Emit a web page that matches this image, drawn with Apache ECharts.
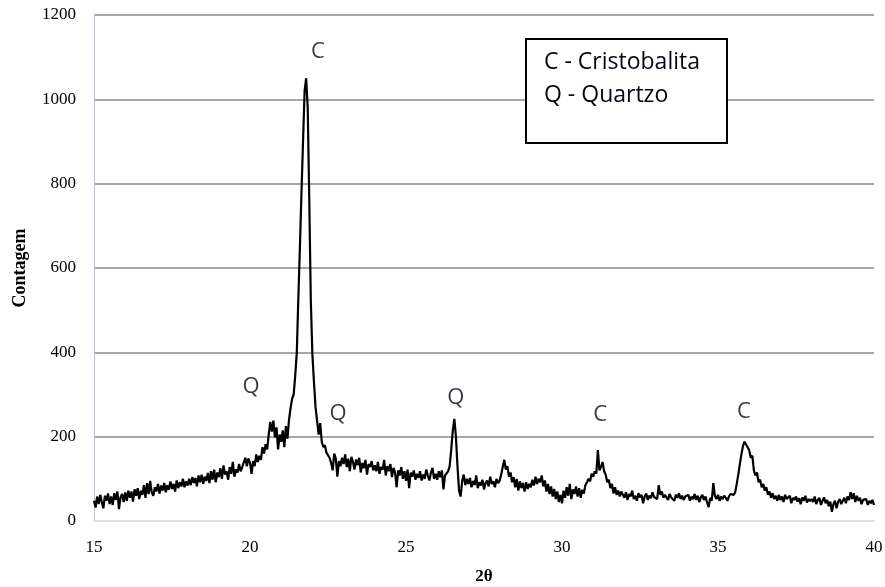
<!DOCTYPE html>
<html>
<head>
<meta charset="utf-8">
<script src="https://cdn.jsdelivr.net/npm/echarts@6/dist/echarts.min.js"></script>
<style>
  html, body { margin: 0; padding: 0; background: #fff; }
  #chart { width: 885px; height: 587px; }
</style>
</head>
<body>
<div id="chart"></div>
<script>
// Diffractogram sampling: first angle and step (degrees 2θ)
const angleStart = 15;
const angleStep = 0.05;

// Measured counts, one value per step from 15.00 to 40.00
const counts = [
  // 15.00 - 15.95
  48, 32, 58, 40, 62, 45, 30, 60, 48, 65, 40, 58, 38, 66, 50, 70, 28, 56, 64, 45,
  // 16.00 - 16.95
  68, 48, 72, 55, 70, 46, 75, 60, 78, 52, 72, 62, 85, 55, 90, 64, 95, 68, 60, 80,
  // 17.00 - 17.95
  70, 88, 65, 84, 72, 90, 68, 85, 74, 94, 76, 88, 70, 96, 78, 92, 82, 100, 80, 94,
  // 18.00 - 18.95
  84, 100, 85, 104, 90, 102, 82, 108, 92, 110, 88, 105, 95, 114, 90, 118, 98, 122, 92, 115,
  // 19.00 - 19.95
  104, 125, 100, 132, 110, 118, 98, 128, 112, 140, 105, 122, 115, 135, 118, 128, 124, 150, 130, 148,
  // 20.00 - 20.95
  138, 112, 142, 130, 158, 140, 155, 145, 175, 160, 182, 170, 205, 235, 212, 238, 198, 222, 170, 205,
  // 21.00 - 21.95
  188, 215, 175, 225, 195, 240, 268, 290, 300, 345, 400, 530, 650, 780, 900, 1020, 1050, 980, 760, 520,
  // 22.00 - 22.95
  395, 330, 270, 238, 205, 232, 188, 175, 180, 162, 165, 150, 138, 120, 160, 148, 105, 142, 130, 150,
  // 23.00 - 23.95
  135, 158, 128, 148, 118, 152, 140, 122, 146, 132, 150, 115, 138, 125, 145, 110, 135, 128, 142, 120,
  // 24.00 - 24.95
  132, 118, 140, 112, 128, 122, 145, 108, 130, 118, 135, 104, 126, 115, 80, 120, 108, 128, 100, 118,
  // 25.00 - 25.95
  95, 122, 78, 115, 105, 120, 98, 112, 102, 118, 96, 110, 100, 122, 108, 96, 115, 126, 100, 112,
  // 26.00 - 26.95
  98, 118, 104, 120, 75, 108, 112, 118, 130, 170, 215, 242, 200, 130, 72, 58, 95, 110, 85, 100,
  // 27.00 - 27.95
  88, 102, 80, 95, 85, 108, 78, 92, 84, 98, 75, 90, 96, 82, 105, 88, 94, 80, 100, 90,
  // 28.00 - 28.95
  95, 110, 128, 145, 122, 130, 105, 115, 92, 104, 80, 100, 72, 94, 78, 90, 70, 92, 76, 88,
  // 29.00 - 29.95
  80, 98, 84, 105, 88, 100, 92, 108, 82, 96, 70, 88, 64, 82, 58, 76, 52, 70, 45, 62,
  // 30.00 - 30.95
  42, 72, 55, 80, 60, 88, 52, 75, 64, 82, 58, 78, 55, 74, 65, 85, 92, 100, 94, 112,
  // 31.00 - 31.95
  105, 118, 112, 168, 120, 128, 140, 118, 110, 92, 98, 78, 88, 65, 80, 62, 72, 58, 70, 62,
  // 32.00 - 32.95
  55, 68, 50, 64, 58, 72, 52, 60, 48, 66, 56, 62, 42, 58, 65, 50, 60, 54, 68, 57,
  // 33.00 - 33.95
  60, 52, 85, 62, 70, 55, 62, 58, 50, 64, 56, 60, 48, 62, 55, 66, 52, 60, 50, 58,
  // 34.00 - 34.95
  55, 62, 48, 58, 52, 64, 50, 60, 45, 56, 62, 50, 58, 44, 33, 55, 48, 90, 60, 52,
  // 35.00 - 35.95
  62, 48, 58, 52, 60, 55, 48, 58, 64, 62, 62, 68, 88, 110, 135, 158, 178, 188, 192, 175,
  // 36.00 - 36.95
  168, 150, 155, 120, 108, 115, 92, 98, 80, 88, 72, 80, 62, 70, 55, 66, 52, 60, 48, 62,
  // 37.00 - 37.95
  50, 58, 45, 62, 52, 48, 60, 42, 55, 50, 58, 46, 54, 40, 56, 48, 60, 44, 52, 47,
  // 38.00 - 38.95
  52, 45, 58, 40, 50, 55, 38, 48, 56, 42, 50, 35, 46, 22, 40, 48, 30, 45, 52, 40,
  // 39.00 - 39.95
  48, 55, 42, 58, 50, 68, 52, 66, 45, 60, 48, 55, 40, 50, 46, 52, 38, 48, 42, 50,
  // 40.00
  38
];

// Phase markers above the reflections
const peakTags = ['C', 'Q', 'Q', 'Q', 'C', 'C'];
const peakTagAngle = [22.18, 20.03, 22.82, 26.6, 31.22, 35.83];
const peakTagCount = [1114, 318, 254, 292, 252, 258];

// Phase key
const phaseKey = ['C - Cristobalita', 'Q - Quartzo'];

const profile = counts.map((c, i) => [+(angleStart + i * angleStep).toFixed(2), c]);
const tags = peakTags.map((t, i) => ({ name: t, value: [peakTagAngle[i], peakTagCount[i]] }));

const chart = echarts.init(document.getElementById('chart'), null, { renderer: 'canvas' });

const serif = '"Liberation Serif", "Times New Roman", serif';
const sans = '"Open Sans", "Noto Sans", sans-serif';
const inkColor = '#050518';

chart.setOption({
  backgroundColor: '#ffffff',
  animation: false,
  title: {
    text: phaseKey.join('\n'),
    left: 526,
    top: 39,
    padding: [7, 8, 31, 18],
    borderColor: '#000000',
    borderWidth: 2,
    backgroundColor: '#ffffff',
    textStyle: {
      fontFamily: sans,
      fontSize: 23,
      fontWeight: 'normal',
      color: inkColor,
      lineHeight: 33,
      width: 175
    }
  },
  grid: { left: 94, right: 11, top: 15, bottom: 66, containLabel: false, outerBoundsMode: 'none' },
  xAxis: {
    type: 'value',
    min: 15,
    max: 40,
    interval: 5,
    name: '2θ',
    nameLocation: 'middle',
    nameGap: 47,
    nameTextStyle: { fontFamily: serif, fontSize: 17, fontWeight: 'bold', color: '#000' },
    axisLine: { show: true, lineStyle: { color: '#d9e0ea', width: 2 } },
    axisTick: { show: false },
    axisLabel: { fontFamily: serif, fontSize: 17, color: '#000', margin: 18 },
    splitLine: { show: false }
  },
  yAxis: {
    type: 'value',
    min: 0,
    max: 1200,
    interval: 200,
    name: 'Contagem',
    nameLocation: 'middle',
    nameGap: 65,
    nameTextStyle: { fontFamily: serif, fontSize: 18, fontWeight: 'bold', color: '#000' },
    axisLine: { show: true, lineStyle: { color: '#b9c7d9', width: 1 } },
    axisTick: { show: false },
    axisLabel: { fontFamily: serif, fontSize: 17, color: '#000', margin: 18, formatter: v => String(v) },
    splitLine: {
      show: true,
      lineStyle: { color: ['#d9e0ea', '#8a8a8a', '#8a8a8a', '#8a8a8a', '#8a8a8a', '#8a8a8a', '#8a8a8a'], width: 1.5 }
    }
  },
  series: [
    {
      type: 'line',
      data: profile,
      showSymbol: false,
      lineStyle: { color: '#000000', width: 2.2 },
      z: 3
    },
    {
      type: 'scatter',
      data: tags,
      symbolSize: 1,
      itemStyle: { color: 'rgba(0,0,0,0)' },
      label: {
        show: true,
        position: 'inside',
        formatter: p => p.name,
        fontFamily: sans,
        fontSize: 22,
        color: inkColor
      },
      z: 4
    }
  ]
});
</script>
</body>
</html>
